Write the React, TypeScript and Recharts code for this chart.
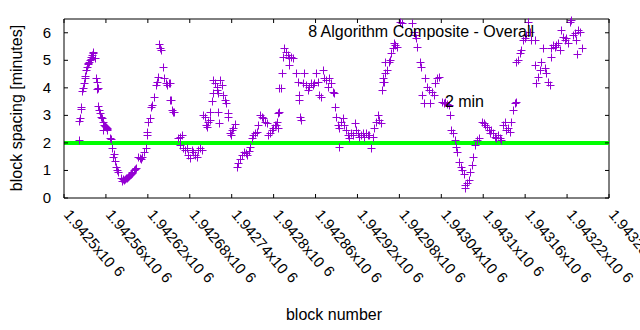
import React from 'react';
import { ScatterChart, Scatter, XAxis, YAxis, ReferenceLine } from 'recharts';

// block numbers and spacing (minutes) in five stretches
const blocksA = [
  1942521, 1942521, 1942523, 1942524, 1942524, 1942526, 1942527, 1942529, 1942530, 1942530,
  1942531, 1942533, 1942534, 1942535, 1942536, 1942537, 1942538, 1942539, 1942540, 1942541,
  1942542, 1942544, 1942546, 1942547, 1942547, 1942549, 1942549, 1942550, 1942552, 1942553,
  1942554, 1942556, 1942557, 1942558, 1942560, 1942561, 1942562, 1942562, 1942556, 1942566,
  1942567, 1942569, 1942570, 1942571, 1942573, 1942574, 1942576, 1942577, 1942582, 1942583,
  1942584, 1942586, 1942587, 1942589, 1942590, 1942591, 1942593, 1942594, 1942596, 1942597,
  1942598, 1942600, 1942601, 1942603, 1942606, 1942609, 1942610, 1942612, 1942614, 1942617,
  1942619, 1942619, 1942620, 1942623, 1942624, 1942626, 1942629, 1942632, 1942633, 1942635,
  1942636, 1942637, 1942639, 1942642, 1942643, 1942646, 1942647, 1942650, 1942653, 1942655,
  1942657,
];
const spacingA = [
  2.11, 2.8, 2.9, 3.24, 3.3, 3.9, 4.0, 4.18, 4.36, 4.44,
  4.65, 4.76, 4.87, 4.9, 4.95, 5.02, 5.05, 5.13, 5.2, 5.3,
  5.25, 5.1, 4.36, 4.2, 3.96, 4.0, 3.35, 3.2, 3.1, 2.95,
  2.9, 2.76, 2.65, 2.6, 2.58, 2.5, 2.55, 2.47, 2.47, 2.18,
  2.15, 1.82, 1.5, 1.6, 1.35, 1.13, 1.02, 0.95, 0.73, 0.62,
  0.68, 0.65, 0.7, 0.73, 0.73, 0.76, 0.8, 0.83, 0.87, 0.95,
  0.92, 1.02, 1.05, 1.09, 1.49, 1.45, 1.42, 1.49, 1.67, 1.82,
  2.4, 2.29, 2.76, 2.9, 3.3, 3.38, 3.67, 4.1, 4.22, 4.4,
  5.6, 5.45, 5.38, 4.76, 4.36, 4.18, 4.1, 4.18, 3.56, 3.2,
  3.13,
];

const blocksB = [
  1942652, 1942652, 1942656, 1942663, 1942666, 1942669, 1942666, 1942670, 1942673, 1942676,
  1942677, 1942680, 1942683, 1942685, 1942687, 1942690, 1942692, 1942695, 1942697, 1942699,
  1942702, 1942703, 1942705, 1942706, 1942709, 1942709, 1942712, 1942713, 1942713, 1942716,
  1942719, 1942719, 1942720, 1942723, 1942726, 1942728, 1942730, 1942732, 1942720, 1942722,
  1942735, 1942735, 1942738, 1942740, 1942742, 1942745, 1942739, 1942748, 1942749, 1942752,
  1942755, 1942758, 1942760, 1942762, 1942765, 1942766, 1942769, 1942770, 1942773, 1942776,
  1942778, 1942780, 1942783, 1942785, 1942788, 1942790, 1942792, 1942795, 1942798, 1942799,
  1942802, 1942805, 1942806, 1942808,
];
const spacingB = [
  4.18, 3.56, 3.13, 2.18, 2.22, 2.29, 1.93, 1.82, 1.75, 1.82,
  1.56, 1.45, 1.75, 1.67, 1.56, 1.49, 1.75, 1.82, 1.75, 3.02,
  2.95, 2.65, 2.58, 2.76, 3.13, 2.84, 3.53, 3.82, 4.29, 4.18,
  4.04, 3.93, 3.82, 4.29, 4.1, 3.75, 3.56, 3.45, 3.13, 2.73,
  3.09, 2.95, 2.36, 2.47, 2.55, 2.69, 2.29, 1.13, 1.27, 1.42,
  1.56, 1.67, 1.64, 1.56, 1.71, 1.85, 2.18, 2.29, 2.36, 2.4,
  2.65, 3.02, 2.95, 2.9, 2.76, 2.73, 2.29, 2.36, 2.47, 2.55,
  2.65, 2.76, 3.09, 4.0,
];

const blocksC = [
  1942803, 1942806, 1942808, 1942811, 1942812, 1942813, 1942815, 1942818, 1942821, 1942822,
  1942825, 1942828, 1942822, 1942832, 1942835, 1942836, 1942836, 1942838, 1942839, 1942842,
  1942843, 1942846, 1942849, 1942851, 1942853, 1942856, 1942858, 1942861, 1942863, 1942865,
  1942868, 1942871, 1942872, 1942875, 1942878, 1942879, 1942882, 1942885, 1942886, 1942888,
  1942889, 1942892, 1942893, 1942896, 1942899, 1942901, 1942903, 1942893, 1942906, 1942908,
  1942911, 1942914, 1942916, 1942918, 1942921, 1942922, 1942925, 1942928, 1942929, 1942932,
  1942935, 1942936, 1942939, 1942942, 1942944, 1942946, 1942949, 1942951, 1942954, 1942955,
  1942956, 1942956, 1942959,
];
const spacingC = [
  2.65, 2.55, 3.13, 4.0, 4.55, 5.13, 5.45, 5.3, 5.2, 5.09,
  5.13, 5.09, 4.84, 4.55, 4.22, 3.75, 3.56, 2.95, 2.84, 4.18,
  4.55, 4.1, 3.93, 4.04, 4.18, 4.1, 4.18, 4.55, 4.22, 3.75,
  3.67, 4.65, 4.36, 4.29, 4.04, 4.36, 4.18, 3.85, 3.82, 3.3,
  2.95, 2.65, 2.55, 2.76, 2.9, 2.65, 2.47, 1.85, 2.29, 2.18,
  2.36, 2.29, 2.73, 2.47, 2.36, 2.22, 2.29, 2.36, 2.22, 2.36,
  2.29, 2.29, 1.82, 2.22, 2.55, 2.76, 3.02, 2.84, 2.73, 3.93,
  4.36, 4.22, 4.95,
];

const blocksD = [
  1942958, 1942959, 1942962, 1942965, 1942966, 1942968, 1942971, 1942972, 1942974, 1942976,
  1942981, 1942984, 1942998, 1943001, 1943002, 1943004, 1943005, 1943009, 1943011, 1943012,
  1943015, 1943017, 1943019, 1943022, 1943024, 1943027, 1943029, 1943031, 1943034, 1943037,
  1943041, 1943044, 1943045, 1943048, 1943051, 1943052, 1943054, 1943057, 1943060, 1943061,
  1943062, 1943065, 1943068, 1943070, 1943072, 1943074, 1943074, 1943077, 1943080, 1943081,
  1943084, 1943085, 1943088, 1943091, 1943094, 1943098, 1943101, 1943102, 1943105, 1943108,
  1943110,
];
const spacingD = [
  4.22, 4.55, 4.65, 4.95, 5.02, 5.27, 5.45, 5.64, 5.56, 5.49,
  6.4, 6.36, 6.36, 6.04, 5.93, 5.82, 5.49, 4.95, 4.76, 3.75,
  3.45, 4.36, 4.04, 3.93, 3.45, 3.85, 3.75, 4.18, 4.36, 4.4,
  3.49, 3.45, 3.49, 3.42, 3.38, 3.02, 2.47, 2.36, 2.11, 1.85,
  1.67, 1.31, 1.13, 1.02, 0.87, 0.36, 0.47, 0.55, 0.65, 0.95,
  1.2, 1.49, 1.93, 2.11, 2.18, 2.76, 2.73, 2.65, 2.58, 2.47,
  2.36,
];

const blocksE = [
  1943111, 1943114, 1943117, 1943118, 1943121, 1943124, 1943125, 1943128, 1943131, 1943133,
  1943135, 1943138, 1943140, 1943143, 1943145, 1943147, 1943147, 1943150, 1943153, 1943154,
  1943157, 1943160, 1943161, 1943164, 1943167, 1943168, 1943174, 1943174, 1943175, 1943178,
  1943181, 1943183, 1943185, 1943188, 1943190, 1943193, 1943195, 1943197, 1943197, 1943200,
  1943203, 1943204, 1943207, 1943210, 1943211, 1943214, 1943217, 1943218, 1943221, 1943224,
  1943226, 1943228, 1943231, 1943233, 1943236, 1943234, 1943238, 1943241,
];
const spacingE = [
  2.47, 2.36, 2.22, 2.18, 2.29, 2.18, 2.11, 2.65, 2.76, 2.47,
  2.55, 2.4, 2.76, 3.2, 3.45, 3.49, 4.95, 5.02, 5.27, 5.38,
  5.75, 5.82, 5.93, 6.4, 6.04, 5.75, 5.75, 4.84, 4.18, 4.4,
  4.65, 4.95, 5.45, 4.73, 4.55, 4.22, 4.1, 5.13, 5.45, 5.56,
  5.49, 5.56, 5.64, 5.38, 6.11, 5.86, 5.75, 5.82, 5.64, 6.4,
  6.47, 5.93, 6.0, 5.75, 6.11, 5.24, 6.04, 5.45,
];

const xTicks = [
  1942500, 1942560, 1942620, 1942680, 1942740, 1942800, 1942860,
  1942920, 1942980, 1943040, 1943100, 1943160, 1943220, 1943280,
];
const xTickLabels = [
  '1.9425', '1.94256', '1.94262', '1.94268', '1.94274', '1.9428', '1.94286',
  '1.94292', '1.94298', '1.94304', '1.9431', '1.94316', '1.94322', '1.94328',
];
const yTicks = [0, 1, 2, 3, 4, 5, 6];

const blocks = [...blocksA, ...blocksB, ...blocksC, ...blocksD, ...blocksE];
const spacing = [...spacingA, ...spacingB, ...spacingC, ...spacingD, ...spacingE];
const data = blocks.map((block, i) => ({ block, spacing: spacing[i] }));

const FONT = '"Liberation Sans", Arial, sans-serif';
const PLOT_TOP = 19;
const PLOT_LEFT = 64;
const PLOT_RIGHT = 609;
const TICK = 4;

// gnuplot style "+" point, snapped to the pixel grid so it stays crisp
const PlusShape = (props: any) => {
  const cx = Math.round(props.cx) + 0.5;
  const cy = Math.round(props.cy) + 0.5;
  return (
    <path
      d={`M${cx - 4},${cy}h8M${cx},${cy - 4}v8`}
      stroke="#9400d3"
      strokeWidth={1}
      fill="none"
    />
  );
};

const XTick = (props: any) => {
  const { x, y, index } = props;
  return (
    <g>
      <line x1={x} x2={x} y1={y} y2={y - TICK} stroke="#000" />
      <line x1={x} x2={x} y1={PLOT_TOP} y2={PLOT_TOP + TICK} stroke="#000" />
      <text
        transform={`translate(${x - 1},${y + 17}) rotate(50)`}
        fontSize={15}
        fontFamily={FONT}
        fill="#000"
      >
        {xTickLabels[index]}x10
        <tspan dx={5} dy={-2}>6</tspan>
      </text>
    </g>
  );
};

const YTick = (props: any) => {
  const { y, payload } = props;
  return (
    <g>
      <line x1={PLOT_LEFT} x2={PLOT_LEFT + TICK} y1={y} y2={y} stroke="#000" />
      <line x1={PLOT_RIGHT} x2={PLOT_RIGHT - TICK} y1={y} y2={y} stroke="#000" />
      <text x={51} y={y + 5} textAnchor="end" fontSize={15} fontFamily={FONT} fill="#000">
        {payload.value}
      </text>
    </g>
  );
};

export default function App() {
  return (
    <div style={{ position: 'absolute', left: 0, top: 0, width: 640, height: 330, background: '#fff' }}>
      <ScatterChart
        width={640}
        height={330}
        margin={{ top: PLOT_TOP, right: 640 - PLOT_RIGHT, bottom: 0, left: 0 }}
      >
        <XAxis
          type="number"
          dataKey="block"
          domain={[1942500, 1943280]}
          ticks={xTicks}
          interval={0}
          height={132}
          tickSize={0}
          tickMargin={0}
          tickLine={false}
          axisLine={{ stroke: '#000' }}
          tick={<XTick />}
        />
        <YAxis
          type="number"
          dataKey="spacing"
          domain={[0, 6.5]}
          ticks={yTicks}
          interval={0}
          width={PLOT_LEFT}
          tickSize={0}
          tickMargin={0}
          tickLine={false}
          axisLine={{ stroke: '#000' }}
          tick={<YTick />}
        />
        <ReferenceLine y={6.5} stroke="#000" />
        <ReferenceLine x={1943280} stroke="#000" />
        <Scatter data={data} shape={<PlusShape />} isAnimationActive={false} />
        <ReferenceLine y={2} stroke="#00ff00" strokeWidth={4} />
      </ScatterChart>
      <svg
        width={640}
        height={330}
        style={{ position: 'absolute', left: 0, top: 0, pointerEvents: 'none' }}
        fontFamily={FONT}
        fontSize={16}
        fill="#000"
      >
        <text x={534} y={37} textAnchor="end">8 Algorithm Composite - Overall</text>
        <text x={484} y={107} textAnchor="end">2 min</text>
        <text transform="translate(22,108) rotate(-90)" textAnchor="middle">block spacing [minutes]</text>
        <text x={334} y={320} textAnchor="middle">block number</text>
      </svg>
    </div>
  );
}
